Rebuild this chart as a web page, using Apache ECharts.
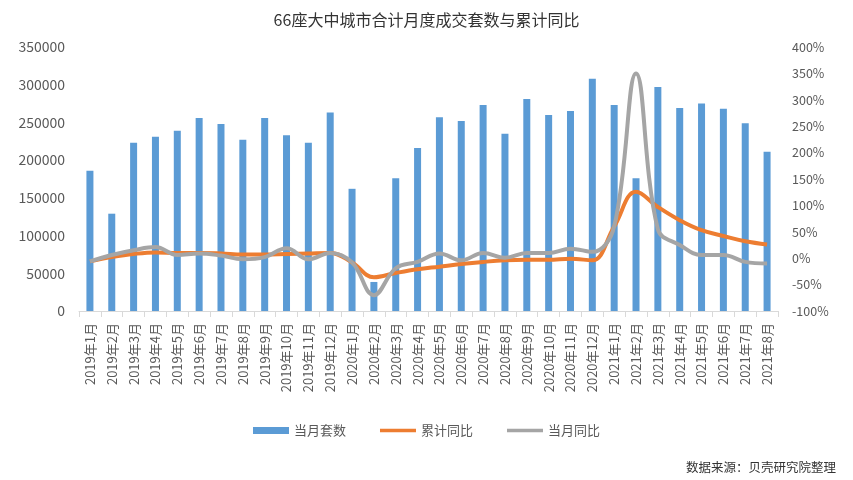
<!DOCTYPE html>
<html><head><meta charset="utf-8">
<script src="https://cdn.jsdelivr.net/npm/echarts@6/dist/echarts.min.js"></script>
<style>html,body{margin:0;padding:0;background:#fff}#c{width:853px;height:480px}</style>
</head><body><div id="c"></div>
<script>
const categories = ["2019年1月","2019年2月","2019年3月","2019年4月","2019年5月","2019年6月","2019年7月","2019年8月","2019年9月","2019年10月","2019年11月","2019年12月",
"2020年1月","2020年2月","2020年3月","2020年4月","2020年5月","2020年6月","2020年7月","2020年8月","2020年9月","2020年10月","2020年11月","2020年12月",
"2021年1月","2021年2月","2021年3月","2021年4月","2021年5月","2021年6月","2021年7月","2021年8月"];
const monthlyUnits = [186000,129000,223000,231000,239000,256000,248000,227000,256000,233000,223000,263000,
162000,38500,176000,216000,257000,252000,273000,235000,281000,260000,265000,308000,
273000,176000,297000,269000,275000,268000,249000,211000];
const cumulativeYoY = [-6,2,8,11,10,10,9,7,7,8,9,10,
-8,-36,-28,-21,-16,-11,-7,-4,-3,-3,-1,-4,
60,126,97,72,53,42,32,26];
const monthlyYoY = [-6,6,15,21,6,9,5,-2,2,19,-2,10,
-8,-70,-19,-7,9,-4,10,1,10,10,18,12,
60,350,55,25,6,6,-7,-10];
const leftTicks = {min:0,max:350000,interval:50000};
const rightTicks = {min:-100,max:400,interval:50};

const chart = echarts.init(document.getElementById('c'));
const font = 'Microsoft YaHei, "Noto Sans CJK SC", sans-serif';
chart.setOption({
  animation:false,
  textStyle:{fontFamily:font},
  title:[{text:'66座大中城市合计月度成交套数与累计同比',left:'center',top:7,
    textStyle:{fontSize:16,fontWeight:'normal',color:'#333',fontFamily:font}},
    {text:'数据来源：贝壳研究院整理',right:12,top:456,textStyle:{fontSize:12.5,fontWeight:'normal',color:'#333',fontFamily:font}}],
  legend:{bottom:38,left:'center',itemGap:34,itemWidth:36,itemHeight:7,
    textStyle:{fontSize:13,color:'#595959',fontFamily:font},
    data:[{name:'当月套数',icon:'rect'},
      {name:'累计同比',icon:'path://M0,0h36v3.5h-36z'},
      {name:'当月同比',icon:'path://M0,0h36v3.5h-36z'}]},
  grid:{left:79,right:75,top:47,bottom:169},
  xAxis:{type:'category',data:categories,boundaryGap:true,
    axisLine:{lineStyle:{color:'#d9d9d9'}},axisTick:{show:true,length:6,lineStyle:{color:'#d9d9d9'}},
    axisLabel:{rotate:90,color:'#595959',fontSize:13,interval:0,margin:12,fontFamily:font}},
  yAxis:[{type:'value',min:leftTicks.min,max:leftTicks.max,interval:leftTicks.interval,
      axisLine:{show:false},axisTick:{show:false},splitLine:{show:false},
      axisLabel:{color:'#595959',fontSize:14,margin:14,formatter:function(v){return String(v);}}},
    {type:'value',min:rightTicks.min,max:rightTicks.max,interval:rightTicks.interval,
      axisLine:{show:false},axisTick:{show:false},splitLine:{show:false},
      axisLabel:{color:'#595959',fontSize:12.5,margin:14,formatter:'{value}%'}}],
  series:[
    {name:'当月套数',type:'bar',data:monthlyUnits,barWidth:7,itemStyle:{color:'#5b9bd5'}},
    {name:'累计同比',type:'line',yAxisIndex:1,data:cumulativeYoY,smooth:0.4,showSymbol:false,symbol:'none',
      lineStyle:{width:4,color:'#ed7d31'},itemStyle:{color:'#ed7d31'}},
    {name:'当月同比',type:'line',yAxisIndex:1,data:monthlyYoY,smooth:0.4,showSymbol:false,symbol:'none',
      lineStyle:{width:4,color:'#a5a5a5'},itemStyle:{color:'#a5a5a5'}}
  ]
});
</script></body></html>
